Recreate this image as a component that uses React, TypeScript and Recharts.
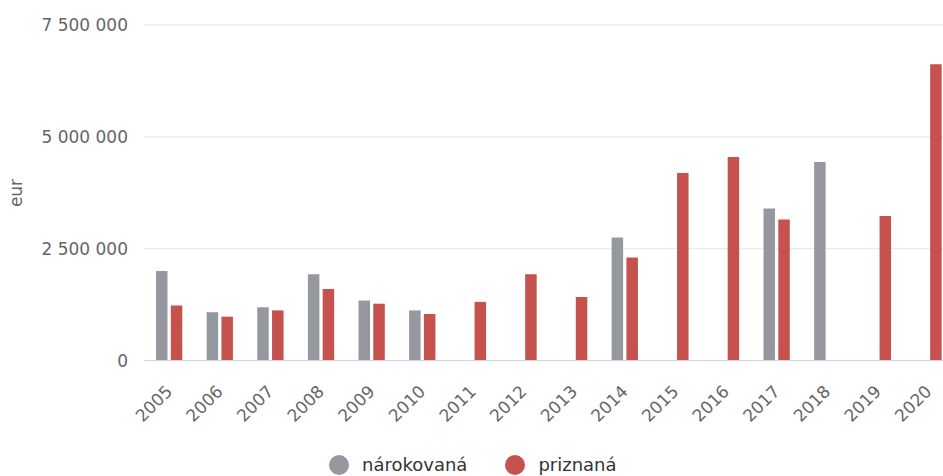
import { BarChart, Bar, XAxis, YAxis, CartesianGrid, Label } from "recharts"

const years = [
  "2005", "2006", "2007", "2008", "2009", "2010", "2011", "2012",
  "2013", "2014", "2015", "2016", "2017", "2018", "2019", "2020",
]

// nárokovaná (claimed)
const claimed = [
  2000000, 1080000, 1190000, 1930000, 1340000, 1120000, null, null,
  null, 2750000, null, null, 3400000, 4440000, null, null,
]

// priznaná (granted)
const granted = [
  1230000, 980000, 1120000, 1600000, 1270000, 1040000, 1310000, 1930000,
  1420000, 2300000, 4190000, 4550000, 3150000, null, 3230000, 6620000,
]

const yTicks = [0, 2500000, 5000000, 7500000]

const series = [
  { key: "claimed", name: "nárokovaná", color: "#95999f" },
  { key: "granted", name: "priznaná", color: "#c5524d" },
]

const data = years.map((year, i) => ({
  year,
  claimed: claimed[i],
  granted: granted[i],
}))

const FONT = "'DejaVu Sans', Verdana, sans-serif"

const formatNumber = (v: number) =>
  String(v).replace(/\B(?=(\d{3})+(?!\d))/g, " ")

function YearTick({ x, y, payload }: any) {
  const ax = x + 4
  const ay = y + 24
  return (
    <text
      x={ax}
      y={ay}
      textAnchor="end"
      transform={`rotate(-45, ${ax}, ${ay})`}
      fill="#666666"
      fontSize={17}
      fontFamily={FONT}
    >
      {payload.value}
    </text>
  )
}

export default function App() {
  return (
    <div
      style={{
        position: "absolute",
        left: 0,
        top: 0,
        width: 943,
        height: 476,
        overflow: "hidden",
        background: "#fff",
        fontFamily: FONT,
      }}
    >
      <BarChart
        width={960}
        height={476}
        data={data}
        margin={{ top: 25, right: 6, left: 0, bottom: 0 }}
        barSize={11.5}
        barGap={3.3}
      >
        <CartesianGrid stroke="#e6e6e6" vertical={false} />
        <XAxis
          dataKey="year"
          interval={0}
          height={115.5}
          tickLine={false}
          axisLine={{ stroke: "#ccd6eb", strokeWidth: 1 }}
          tick={<YearTick />}
        />
        <YAxis
          width={144}
          domain={[0, 7500000]}
          ticks={yTicks}
          tickLine={false}
          axisLine={false}
          tickMargin={10}
          tickFormatter={formatNumber}
          tick={{ fill: "#666666", fontSize: 17, fontFamily: FONT }}
        >
          <Label
            content={() => (
              <text
                transform="translate(21.5,193) rotate(-90)"
                textAnchor="middle"
                fill="#666666"
                fontSize={17}
                fontFamily={FONT}
              >
                eur
              </text>
            )}
          />
        </YAxis>
        {series.map((s) => (
          <Bar
            key={s.key}
            dataKey={s.key}
            name={s.name}
            fill={s.color}
            isAnimationActive={false}
          />
        ))}
      </BarChart>
      <div
        style={{
          position: "absolute",
          top: 454,
          left: 329,
          display: "flex",
          alignItems: "center",
          fontSize: 18,
          color: "#333333",
          whiteSpace: "nowrap",
        }}
      >
        {series.map((s, i) => (
          <div
            key={s.key}
            style={{ display: "flex", alignItems: "center", marginLeft: i ? 38 : 0 }}
          >
            <span
              style={{
                width: 20,
                height: 20,
                borderRadius: 10,
                background: s.color,
                display: "inline-block",
                marginRight: 13,
              }}
            />
            <span>{s.name}</span>
          </div>
        ))}
      </div>
    </div>
  )
}
